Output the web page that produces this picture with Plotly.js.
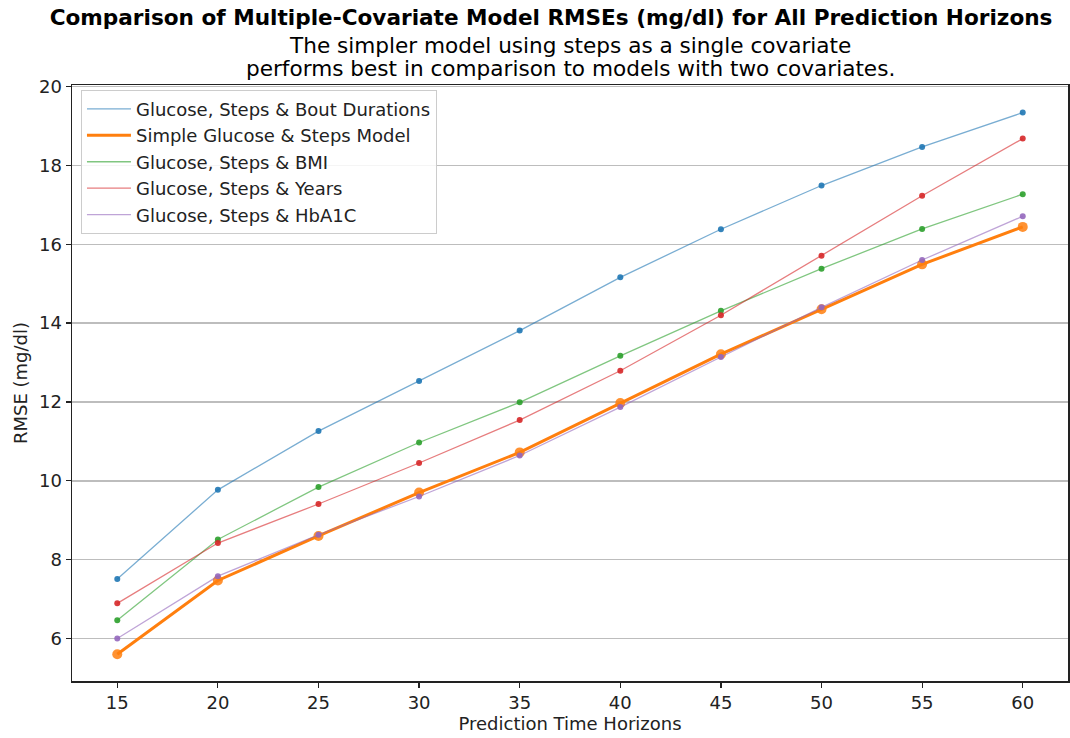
<!DOCTYPE html>
<html>
<head>
<meta charset="utf-8">
<script src="https://cdn.plot.ly/plotly-3.0.1.min.js"></script>
<style>html,body{margin:0;padding:0;background:#fff;}#chart{width:1070px;height:738px;}</style>
</head>
<body>
<div id="chart"></div>
<script>
const horizons = [15, 20, 25, 30, 35, 40, 45, 50, 55, 60];
const boutDurations = [7.51, 9.77, 11.26, 12.53, 13.81, 15.16, 16.38, 17.49, 18.47, 19.34];
const simpleModel   = [5.60, 7.47, 8.60, 9.70, 10.72, 11.97, 13.21, 14.35, 15.49, 16.44];
const bmi           = [6.46, 8.51, 9.84, 10.97, 11.99, 13.17, 14.31, 15.38, 16.39, 17.27];
const years         = [6.89, 8.42, 9.41, 10.45, 11.54, 12.79, 14.20, 15.71, 17.23, 18.68];
const hba1c         = [6.00, 7.58, 8.63, 9.60, 10.64, 11.87, 13.14, 14.40, 15.60, 16.71];
const seriesNames = [
  'Glucose, Steps & Bout Durations',
  'Simple Glucose & Steps Model',
  'Glucose, Steps & BMI',
  'Glucose, Steps & Years',
  'Glucose, Steps & HbA1C'
];
const seriesValues = [boutDurations, simpleModel, bmi, years, hba1c];
const colors = ['#1f77b4', '#ff7f0e', '#2ca02c', '#d62728', '#9467bd'];

function hexA(hex, a) {
  const r = parseInt(hex.slice(1,3),16), g = parseInt(hex.slice(3,5),16), b = parseInt(hex.slice(5,7),16);
  return `rgba(${r},${g},${b},${a})`;
}

const traces = [];
seriesValues.forEach((vals, i) => {
  const main = i === 1;
  const lineColor = main ? colors[i] : hexA(colors[i], 0.6);
  traces.push({
    x: horizons, y: vals, name: seriesNames[i], type: 'scatter', mode: 'lines',
    line: {color: lineColor, width: main ? 3 : 1.3},
    showlegend: true, hoverinfo: 'skip'
  });
  traces.push({
    x: horizons, y: vals, name: seriesNames[i], type: 'scatter', mode: 'markers',
    marker: {color: colors[i], size: main ? 10 : 6, opacity: main ? 0.85 : 0.9},
    showlegend: false
  });
});

const font = 'DejaVu Sans, sans-serif';
const layout = {
  width: 1070, height: 738,
  paper_bgcolor: '#fff', plot_bgcolor: '#fff',
  margin: {l: 72, r: 2, t: 85, b: 57},
  font: {family: font, size: 18, color: '#000'},
  title: {
    text: '<b>Comparison of Multiple-Covariate Model RMSEs (mg/dl) for All Prediction Horizons</b>',
    x: 0.515, xanchor: 'center', y: 0.977, yanchor: 'middle',
    font: {family: font, size: 21.6, color: '#000'}
  },
  annotations: [
    {text: 'The simpler model using steps as a single covariate', xref: 'paper', yref: 'paper',
     x: 0.5, y: 1, xanchor: 'center', yanchor: 'middle', yshift: 40, showarrow: false,
     font: {family: font, size: 21.6, color: '#000'}},
    {text: 'performs best in comparison to models with two covariates.', xref: 'paper', yref: 'paper',
     x: 0.5, y: 1, xanchor: 'center', yanchor: 'middle', yshift: 17, showarrow: false,
     font: {family: font, size: 21.6, color: '#000'}}
  ],
  xaxis: {
    range: [12.75, 62.25], tickvals: horizons, ticktext: horizons.map(String),
    showgrid: false, zeroline: false, showline: true, linecolor: '#222', linewidth: 1.5, mirror: true,
    ticks: 'outside', ticklen: 5, tickcolor: '#222', tickwidth: 1.2,
    tickfont: {family: font, size: 18, color: '#222'},
    title: {text: 'Prediction Time Horizons', font: {family: font, size: 18, color: '#222'}, standoff: 2}
  },
  yaxis: {
    range: [4.92, 20.04], tickvals: [6, 8, 10, 12, 14, 16, 18, 20],
    showgrid: true, gridcolor: '#bdbdbd', gridwidth: 1.5, zeroline: false,
    showline: true, linecolor: '#222', linewidth: 1.5, mirror: true,
    ticks: 'outside', ticklen: 5, tickcolor: '#222', tickwidth: 1.2,
    tickfont: {family: font, size: 18, color: '#222'},
    title: {text: 'RMSE (mg/dl)', font: {family: font, size: 18, color: '#222'}, standoff: 6}
  },
  legend: {
    x: 0.009, y: 0.992, xanchor: 'left', yanchor: 'top',
    bgcolor: 'rgba(255,255,255,0.85)', bordercolor: '#cccccc', borderwidth: 1,
    font: {family: font, size: 18, color: '#222'}, tracegroupgap: 0, itemwidth: 44
  },
  showlegend: true
};

Plotly.newPlot('chart', traces, layout, {displayModeBar: false, staticPlot: true});
</script>
</body>
</html>
